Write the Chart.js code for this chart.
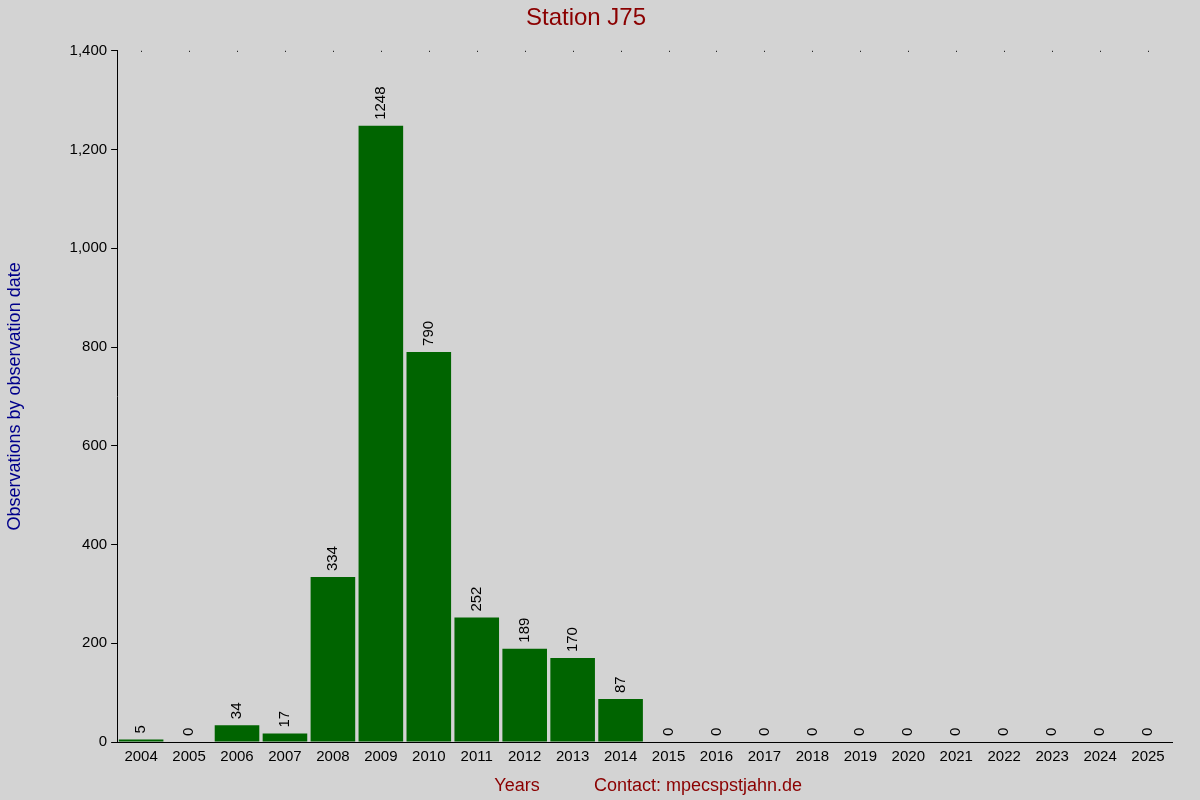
<!DOCTYPE html>
<html><head><meta charset="utf-8">
<script src="https://cdn.jsdelivr.net/npm/chart.js"></script>
<style>html,body{margin:0;padding:0;background:#d3d3d3;}canvas{display:block;}</style>
</head><body>
<div style="width:1200px;height:800px;"><canvas id="c"></canvas></div>
<script>
const categories = ["2004","2005","2006","2007","2008","2009","2010","2011","2012","2013","2014","2015","2016","2017","2018","2019","2020","2021","2022","2023","2024","2025"];
const values = [5,0,34,17,334,1248,790,252,189,170,87,0,0,0,0,0,0,0,0,0,0,0];
const yTicks = [0,200,400,600,800,1000,1200,1400];

const labelsPlugin = {
  id:'labels',
  afterDatasetsDraw(chart){
    const ctx=chart.ctx, meta=chart.getDatasetMeta(0);
    ctx.save();
    ctx.font='15px "Liberation Sans", Arial, sans-serif';
    ctx.fillStyle='#000';
    ctx.textAlign='left'; ctx.textBaseline='middle';
    meta.data.forEach((b,i)=>{
      ctx.save();
      ctx.translate(b.x, b.y-6);
      ctx.rotate(-Math.PI/2);
      ctx.fillText(String(values[i]),0,0);
      ctx.restore();
    });
    // top dots
    const xs=chart.scales.x, top=chart.chartArea.top;
    categories.forEach((c,i)=>{ctx.fillRect(Math.round(xs.getPixelForValue(i)),top,1,1);});
    // footer texts
    ctx.font='18px "Liberation Sans", Arial, sans-serif';
    ctx.fillStyle='#8b0000'; ctx.textAlign='center';
    ctx.fillText('Years',517,786);
    ctx.fillText('Contact: mpecspstjahn.de',698,786);
    ctx.restore();
  }
};
new Chart(document.getElementById('c'),{
  type:'bar',
  data:{labels:categories,datasets:[{data:values,backgroundColor:'#006400',barPercentage:0.93,categoryPercentage:1}]},
  options:{
    responsive:true,maintainAspectRatio:false,animation:false,
    layout:{padding:{left:0,right:28,top:0,bottom:28}},
    plugins:{legend:{display:false},tooltip:{enabled:false},
      title:{display:true,text:'Station J75',color:'#8b0000',font:{size:24,family:'"Liberation Sans", Arial, sans-serif',weight:'normal'},padding:{top:4,bottom:18}}},
    scales:{
      x:{grid:{display:false,drawTicks:false},border:{color:'#000'},ticks:{color:'#000',maxRotation:0,autoSkip:false,padding:6,font:{size:15,family:'"Liberation Sans", Arial, sans-serif'}}},
      y:{min:0,max:1400,afterBuildTicks(s){s.ticks=yTicks.map(v=>({value:v}));},
        grid:{display:true,drawOnChartArea:false,drawTicks:true,tickLength:6,color:'#000'},border:{color:'#000'},
        ticks:{color:'#000',padding:4,font:{size:15,family:'"Liberation Sans", Arial, sans-serif'}},
        title:{display:true,text:'Observations by observation date',color:'#00008b',font:{size:18,family:'"Liberation Sans", Arial, sans-serif'},padding:{bottom:40}}}
    }
  },
  plugins:[labelsPlugin]
});
</script></body></html>
